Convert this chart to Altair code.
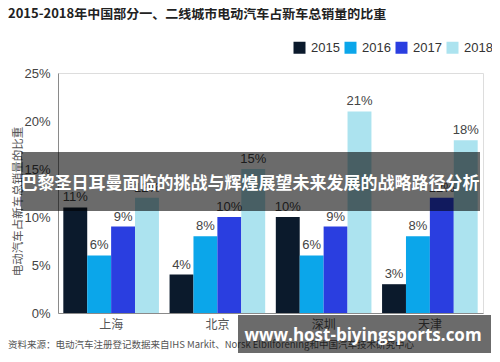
import altair as alt
import pandas as pd

cities = ["上海", "北京", "深圳", "天津"]
years = ["2015", "2016", "2017", "2018"]
s2015 = [11, 4, 10, 3]
s2016 = [6, 8, 6, 8]
s2017 = [9, 10, 9, 12]
s2018 = [12, 15, 21, 18]
colors = ["#0b1a2c", "#0ba6ea", "#2a3ee0", "#ace3ef"]

title_text = "2015-2018年中国部分一、二线城市电动汽车占新车总销量的比重"
y_title = "电动汽车占新车总销量的比重"
source_text = "资料来源：电动汽车注册登记数据来自IHS Markit、Norsk Elbilforening和中国汽车技术研究中心"
banner_text = "巴黎圣日耳曼面临的挑战与辉煌展望未来发展的战略路径分析"
watermark_text = "www.host-biyingsports.com"

rows = []
for yr, series in zip(years, [s2015, s2016, s2017, s2018]):
    for c, v in zip(cities, series):
        rows.append({"city": c, "year": yr, "value": v, "label": f"{v}%"})
df = pd.DataFrame(rows)

FONT = "Noto Sans CJK SC"

base = alt.Chart(df).encode(
    x=alt.X("city:N", sort=cities, title=None,
            scale=alt.Scale(paddingInner=0.1, paddingOuter=0.05),
            axis=alt.Axis(labelAngle=0, ticks=False, domainColor="#8a8a8a",
                          labelFontSize=12, labelColor="#555", labelPadding=6,
                          labelFont=FONT)),
    xOffset=alt.XOffset("year:N", sort=years, scale=alt.Scale(paddingInner=0, paddingOuter=0)),
)

bars = base.mark_bar().encode(
    y=alt.Y("value:Q", scale=alt.Scale(domain=[0, 25], nice=False),
            axis=alt.Axis(values=[0, 5, 10, 15, 20, 25], labelExpr="datum.value + '%'",
                          ticks=False, grid=False, domainColor="#8a8a8a",
                          labelFontSize=13, labelColor="#444", labelPadding=8,
                          labelFont="Liberation Sans",
                          title=y_title, titleFontSize=11.5, titleFontWeight="normal",
                          titleColor="#555", titleFont=FONT,
                          titleX=-40, titleY=128, titleAngle=270,
                          titleBaseline="middle", titleAlign="center")),
    color=alt.Color("year:N", sort=years,
                    scale=alt.Scale(domain=years, range=colors),
                    legend=alt.Legend(title=None, orient="none", direction="horizontal",
                                      legendX=235, legendY=-32,
                                      symbolType="square", symbolSize=144,
                                      symbolStrokeWidth=0, symbolOpacity=1,
                                      labelFontSize=13, labelColor="#333",
                                      labelFont="Liberation Sans",
                                      labelOffset=5, columnPadding=4, padding=0)),
)

labels = base.mark_text(baseline="bottom", dy=-3, fontSize=13, color="#444",
                        font="Liberation Sans").encode(
    y=alt.Y("value:Q"),
    text="label:N",
)

def one(text):
    return pd.DataFrame({"t": [text]})

title = alt.Chart(one(title_text)).mark_text(
    align="left", baseline="middle", fontSize=13, fontWeight="bold",
    color="#222", font=FONT).encode(
    x=alt.value(-50), y=alt.value(-59), text="t:N")

source = alt.Chart(one(source_text)).mark_text(
    align="left", baseline="middle", fontSize=9.5, color="#555", font=FONT).encode(
    x=alt.value(-50), y=alt.value(272), text="t:N")

banner = alt.Chart(one("b")).mark_rect(color="#000", opacity=0.58).encode(
    x=alt.value(-37), x2=alt.value(422), y=alt.value(79), y2=alt.value(138))

banner_t = alt.Chart(one(banner_text)).mark_text(
    align="center", baseline="middle", fontSize=17, fontWeight="bold",
    color="white", font=FONT).encode(
    x=alt.value(192), y=alt.value(111), text="t:N")

wm = alt.Chart(one("w")).mark_rect(color="#000", opacity=0.58).encode(
    x=alt.value(180), x2=alt.value(433), y=alt.value(242), y2=alt.value(280))

wm_t = alt.Chart(one(watermark_text)).mark_text(
    align="center", baseline="middle", fontSize=17, fontWeight="bold",
    color="white", font="Open Sans").encode(
    x=alt.value(305), y=alt.value(263), text="t:N")

chart = alt.layer(bars, labels, title, source, banner, banner_t, wm, wm_t).properties(
    width=425, height=240,
    autosize=alt.AutoSizeParams(type="none"),
    padding={"left": 50, "top": 65, "right": 9, "bottom": 41},
).configure_view(stroke=None).configure(background="white")

chart.save("out.html", embed_options={"renderer": "svg", "actions": False})
